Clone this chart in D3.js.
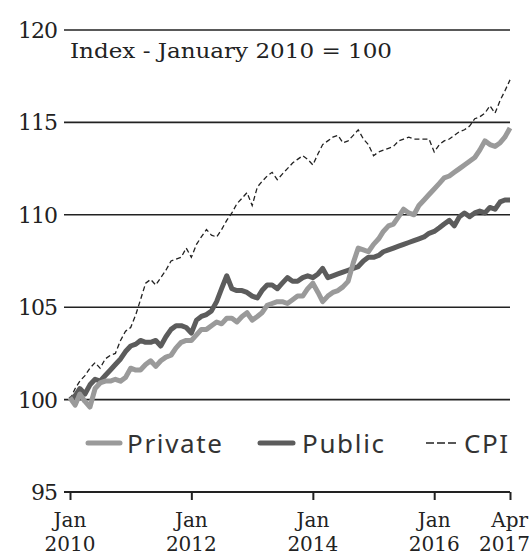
<!DOCTYPE html>
<html>
<head>
<meta charset="utf-8">
<script src="https://cdn.jsdelivr.net/npm/d3@7"></script>
<style>
  body { margin: 0; background: #fff; }
  .serif { font-family: "DejaVu Serif", serif; fill: #222; }
  .legendText { font-family: "Noto Sans", sans-serif; fill: #333; }
</style>
</head>
<body>
<div id="chart"></div>
<script>
// monthly series, Jan 2010 .. Apr 2017 (index, Jan 2010 = 100)
var startMonth = "2010-01";
var privateValues = [
  100.1, 99.7, 100.3, 99.9, 99.6, 100.6, 100.9, 101.0, 101.0, 101.1, 101.0, 101.2,
  101.7, 101.6, 101.6, 101.9, 102.1, 101.8, 102.1, 102.3, 102.4, 102.8, 103.1, 103.2,
  103.2, 103.5, 103.8, 103.8, 104.0, 104.2, 104.1, 104.4, 104.4, 104.2, 104.5, 104.7,
  104.3, 104.5, 104.7, 105.1, 105.2, 105.3, 105.3, 105.2, 105.4, 105.6, 105.6, 106.0,
  106.3, 105.8, 105.3, 105.6, 105.8, 105.9, 106.1, 106.4, 107.4, 108.2, 108.1, 108.0,
  108.4, 108.7, 109.1, 109.4, 109.5, 109.9, 110.3, 110.1, 110.0, 110.5, 110.8, 111.1,
  111.4, 111.7, 112.0, 112.1, 112.3, 112.5, 112.7, 112.9, 113.1, 113.5, 114.0, 113.8,
  113.7, 113.9, 114.2, 114.7
];
var publicValues = [
  100.0, 100.2, 100.6, 100.3, 100.8, 101.1, 101.0, 101.3, 101.6, 101.9, 102.2, 102.6,
  102.9, 103.0, 103.2, 103.1, 103.1, 103.2, 102.9, 103.4, 103.8, 104.0, 104.0, 103.9,
  103.6, 104.3, 104.5, 104.6, 104.8, 105.3, 106.0, 106.7, 106.0, 105.9, 105.9, 105.8,
  105.6, 105.5, 105.9, 106.2, 106.2, 106.0, 106.3, 106.6, 106.4, 106.4, 106.6, 106.7,
  106.6, 106.8, 107.1, 106.6, 106.7, 106.8, 106.9, 107.0, 107.1, 107.2, 107.5, 107.7,
  107.7, 107.8, 108.0, 108.1, 108.2, 108.3, 108.4, 108.5, 108.6, 108.7, 108.8, 109.0,
  109.1, 109.3, 109.5, 109.7, 109.4, 109.9, 110.1, 109.9, 110.1, 110.2, 110.1, 110.4,
  110.3, 110.7, 110.8, 110.8
];
var cpiValues = [
  100.0, 100.6, 101.0, 101.3, 101.7, 102.0, 101.7, 102.2, 102.4, 102.5, 103.2, 103.7,
  103.9, 104.6, 105.4, 106.3, 106.5, 106.2, 106.6, 107.0, 107.5, 107.6, 107.7, 108.2,
  107.7, 108.4, 108.8, 109.2, 108.9, 108.8, 109.2, 109.7, 110.1, 110.6, 110.9, 111.2,
  110.5, 111.5, 111.8, 112.1, 112.3, 111.9, 112.2, 112.5, 112.8, 113.0, 113.2, 113.0,
  112.7, 113.3, 113.8, 114.0, 114.2, 114.3, 113.9, 114.0, 114.3, 114.6, 114.1, 113.8,
  113.2, 113.4, 113.5, 113.6, 113.7, 114.0, 114.1, 114.2, 114.1, 114.1, 114.1, 114.1,
  113.4, 113.8, 114.0, 114.1, 114.3, 114.5, 114.6, 114.8, 115.2, 115.3, 115.5, 115.9,
  115.5, 116.2, 116.7, 117.3
];

var yTicks = [95, 100, 105, 110, 115, 120];
var xTickMonths = ["2010-01", "2012-01", "2014-01", "2016-01", "2017-04"];
var xTickLabels = [["Jan", "2010"], ["Jan", "2012"], ["Jan", "2014"], ["Jan", "2016"], ["Apr", "2017"]];
var titleText = "Index - January 2010 = 100";

var seriesNames = ["Private", "Public", "CPI"];
var seriesColors = ["#9a9a9a", "#5c5c5c", "#222"];

var svgWidth = 531;
var svgHeight = 558;

var parseMonth = d3.timeParse("%Y-%m");
var start = parseMonth(startMonth);

function toPoints(values) {
  return values.map(function(v, i) {
    return { date: d3.timeMonth.offset(start, i), value: v };
  });
}

var svg = d3.select("#chart")
  .append("svg")
  .attr("width", svgWidth)
  .attr("height", svgHeight);

var xScale = d3.scaleTime()
  .domain([start, parseMonth("2017-04")])
  .range([70, 510]);

var yScale = d3.scaleLinear()
  .domain([95, 120])
  .range([492, 30]);

// gridlines (95 is the axis itself)
svg.append("g")
  .selectAll("line")
  .data(yTicks.slice(1))
  .enter()
  .append("line")
  .attr("x1", 64)
  .attr("x2", 510)
  .attr("y1", d => yScale(d))
  .attr("y2", d => yScale(d))
  .attr("stroke", "#222")
  .attr("stroke-width", 1.6);

// y labels
svg.append("g")
  .selectAll("text")
  .data(yTicks)
  .enter()
  .append("text")
  .classed("serif", true)
  .attr("x", 57)
  .attr("y", d => yScale(d))
  .attr("dy", "0.36em")
  .attr("text-anchor", "end")
  .attr("font-size", "22px")
  .attr("letter-spacing", "-1")
  .text(d => d);

// x axis
var xAxis = d3.axisBottom(xScale)
  .tickValues(xTickMonths.map(parseMonth))
  .tickSize(8)
  .tickFormat("");

var xAxisG = svg.append("g")
  .attr("transform", `translate(0, ${yScale(95)})`)
  .call(xAxis);

xAxisG.select(".domain")
  .attr("d", "M64,0H510")
  .attr("stroke", "#222")
  .attr("stroke-width", 2);

xAxisG.selectAll(".tick line")
  .attr("stroke", "#222")
  .attr("stroke-width", 2);

// two-line tick labels
var tickLabelG = svg.append("g");
xTickMonths.forEach(function(m, i) {
  var last = i === xTickMonths.length - 1;
  var xPos = xScale(parseMonth(m));
  var t = tickLabelG.append("text")
    .classed("serif", true)
    .attr("font-size", "20px")
    .attr("text-anchor", last ? "end" : "middle");
  t.append("tspan").attr("x", last ? 528 : xPos).attr("y", 527).text(xTickLabels[i][0]);
  t.append("tspan").attr("x", last ? 530 : xPos).attr("y", 551).text(xTickLabels[i][1]);
});

// title
svg.append("text")
  .classed("serif", true)
  .attr("x", 70)
  .attr("y", 58)
  .attr("font-size", "21px")
  .attr("textLength", 322)
  .attr("lengthAdjust", "spacingAndGlyphs")
  .text(titleText);

// lines
var line = d3.line()
  .x(d => xScale(d.date))
  .y(d => yScale(d.value));

svg.append("path")
  .datum(toPoints(cpiValues))
  .attr("fill", "none")
  .attr("stroke", seriesColors[2])
  .attr("stroke-width", 1.3)
  .attr("stroke-dasharray", "5,3")
  .attr("d", line);

svg.append("path")
  .datum(toPoints(publicValues))
  .attr("fill", "none")
  .attr("stroke", seriesColors[1])
  .attr("stroke-width", 5)
  .attr("stroke-linejoin", "round")
  .attr("d", line);

svg.append("path")
  .datum(toPoints(privateValues))
  .attr("fill", "none")
  .attr("stroke", seriesColors[0])
  .attr("stroke-width", 5)
  .attr("stroke-linejoin", "round")
  .attr("d", line);

// legend
var legendItems = [
  { name: seriesNames[0], x1: 88, x2: 120, tx: 127, len: 95, dash: null, w: 5 },
  { name: seriesNames[1], x1: 260, x2: 293, tx: 302, len: 82, dash: null, w: 5 },
  { name: seriesNames[2], x1: 426, x2: 456, tx: 464, len: 44, dash: "8,3", w: 1.5 }
];
var legend = svg.append("g");
legendItems.forEach(function(d, i) {
  legend.append("line")
    .attr("x1", d.x1)
    .attr("x2", d.x2)
    .attr("y1", 443)
    .attr("y2", 443)
    .attr("stroke", seriesColors[i])
    .attr("stroke-width", d.w)
    .attr("stroke-linecap", d.dash ? "butt" : "round")
    .attr("stroke-dasharray", d.dash);
  legend.append("text")
    .classed("legendText", true)
    .attr("x", d.tx)
    .attr("y", 453)
    .attr("font-size", "26px")
    .attr("textLength", d.len)
    .attr("lengthAdjust", "spacing")
    .text(d.name);
});
</script>
</body>
</html>
